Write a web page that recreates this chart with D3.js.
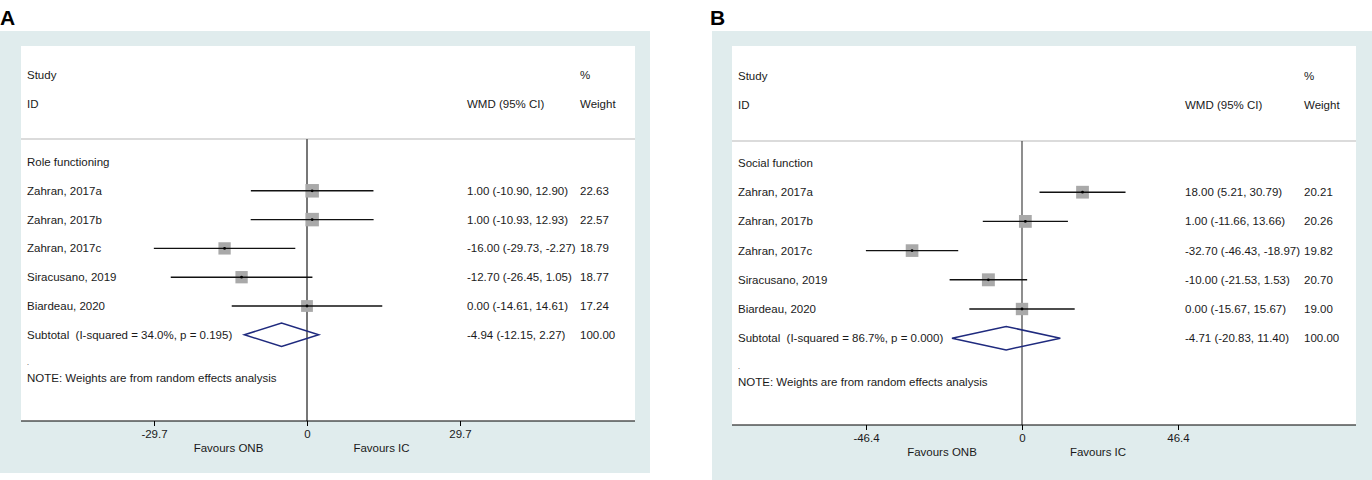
<!DOCTYPE html>
<html>
<head>
<meta charset="utf-8">
<script src="https://cdn.jsdelivr.net/npm/d3@7"></script>
<style>
  body { margin: 0; background: #fff; }
  svg { display: block; font-family: 'Liberation Sans', Arial, sans-serif; }
  text { white-space: pre; }
</style>
</head>
<body>
<div id="chart"></div>
<script>
// study rows (same for both panels)
const studies = ['Zahran, 2017a', 'Zahran, 2017b', 'Zahran, 2017c', 'Siracusano, 2019', 'Biardeau, 2020']

// A: role functioning
const roleEst = [1.00, 1.00, -16.00, -12.70, 0.00]
const roleLow = [-10.90, -10.93, -29.73, -26.45, -14.61]
const roleHigh = [12.90, 12.93, -2.27, 1.05, 14.61]
const roleWeight = [22.63, 22.57, 18.79, 18.77, 17.24]
const roleSubtotal = [-4.94, -12.15, 2.27]
const roleTicks = [-29.7, 0, 29.7]

// B: social function
const socialEst = [18.00, 1.00, -32.70, -10.00, 0.00]
const socialLow = [5.21, -11.66, -46.43, -21.53, -15.67]
const socialHigh = [30.79, 13.66, -18.97, 1.53, 15.67]
const socialWeight = [20.21, 20.26, 19.82, 20.70, 19.00]
const socialSubtotal = [-4.71, -20.83, 11.40]
const socialTicks = [-46.4, 0, 46.4]

// plain hyphen for negatives, like the stata output
const locale = d3.formatLocale({ decimal: '.', thousands: ',', grouping: [3], currency: ['', ''], minus: '-' })
const fmt = locale.format('.2f')
const fmt1 = locale.format('.1f')
const ciText = (e, l, h) => fmt(e) + ' (' + fmt(l) + ', ' + fmt(h) + ')'

const FS = 11.5

var svg = d3.select('#chart').
  append('svg').
  attr('width', 1372).
  attr('height', 480)

// side of the weight square grows with sqrt of the weight
var sizeScale = d3.scaleSqrt().domain([0, 100]).range([0, 28.4])

const forestPanel = (o) => {
  var g = svg.append('g')

  g.append('text').
    attr('x', o.letterX).attr('y', 25).
    attr('font-size', 21).attr('font-weight', 'bold').
    text(o.letter)

  g.append('rect').
    attr('x', o.outer[0]).attr('y', o.outer[1]).
    attr('width', o.outer[2] - o.outer[0]).attr('height', o.outer[3] - o.outer[1]).
    attr('fill', '#e0eced')
  g.append('rect').
    attr('x', o.inner[0]).attr('y', o.inner[1]).
    attr('width', o.inner[2] - o.inner[0]).attr('height', o.inner[3] - o.inner[1]).
    attr('fill', '#fff')

  var x = d3.scaleLinear().domain([o.ticks[0], o.ticks[2]]).range(o.tickRange)
  var y = d3.scaleLinear().domain([0, 1]).range([o.rowTop, o.rowTop + o.step])

  var txt = (xx, yy, s) => g.append('text').
    attr('x', xx).attr('y', yy).attr('dy', '0.35em').
    attr('font-size', FS).attr('fill', '#1a1a1a').text(s)

  // header
  txt(o.inner[0] + 6, o.headY[0], 'Study')
  txt(o.inner[0] + 6, o.headY[1], 'ID')
  txt(o.colCI, o.headY[1], 'WMD (95% CI)')
  txt(o.colW, o.headY[0], '%')
  txt(o.colW, o.headY[1], 'Weight')

  g.append('line').
    attr('x1', o.inner[0]).attr('x2', o.inner[2]).
    attr('y1', o.sepY).attr('y2', o.sepY).
    attr('stroke', '#cfcfcf').attr('stroke-width', 1.5)

  // null line
  g.append('line').
    attr('x1', x(0)).attr('x2', x(0)).
    attr('y1', o.sepY).attr('y2', o.inner[3]).
    attr('stroke', o.zeroColor).attr('stroke-width', o.zeroWidth)

  txt(o.inner[0] + 6, y(0), o.group)

  var rows = studies.map((s, i) => ({
    name: s, est: o.est[i], lo: o.low[i], hi: o.high[i], w: o.weight[i], row: i + 1
  }))

  var row = g.selectAll('g.study').
    data(rows).
    enter().
    append('g').
    attr('class', 'study')

  row.append('rect').
    attr('x', d => x(d.est) - sizeScale(d.w) / 2).
    attr('y', d => y(d.row) - sizeScale(d.w) / 2).
    attr('width', d => sizeScale(d.w)).
    attr('height', d => sizeScale(d.w)).
    attr('fill', '#a9a9a9')
  row.append('line').
    attr('x1', d => x(d.lo)).attr('x2', d => x(d.hi)).
    attr('y1', d => y(d.row)).attr('y2', d => y(d.row)).
    attr('stroke', '#111').attr('stroke-width', 1.4)
  row.append('circle').
    attr('cx', d => x(d.est)).attr('cy', d => y(d.row)).
    attr('r', 1.4).attr('fill', '#000')

  rows.forEach(d => {
    txt(o.inner[0] + 6, y(d.row), d.name)
    txt(o.colCI, y(d.row), ciText(d.est, d.lo, d.hi))
    txt(o.colW, y(d.row), fmt(d.w))
  })

  // subtotal diamond
  var sy = y(6), sub = o.subtotal
  g.append('path').
    attr('d', 'M' + x(sub[1]) + ',' + sy + 'L' + x(sub[0]) + ',' + (sy - 11.7) +
      'L' + x(sub[2]) + ',' + sy + 'L' + x(sub[0]) + ',' + (sy + 11.7) + 'Z').
    attr('fill', 'none').attr('stroke', '#1f2a7e').attr('stroke-width', 1.5)
  txt(o.inner[0] + 6, sy, o.subLabel)
  txt(o.colCI, sy, ciText(sub[0], sub[1], sub[2]))
  txt(o.colW, sy, fmt(100))

  txt(o.inner[0] + 6, y(6.98), '.').attr('font-size', 7)
  txt(o.inner[0] + 6, y(7.5), 'NOTE: Weights are from random effects analysis')

  // x axis
  var axisG = g.append('g').
    attr('transform', 'translate(0,' + o.inner[3] + ')')
  axisG.append('line').
    attr('x1', o.inner[0]).attr('x2', o.inner[2]).
    attr('stroke', '#000').attr('stroke-width', 1.2)
  axisG.call(d3.axisBottom(x).tickValues(o.ticks).tickSize(5).tickFormat(d => d === 0 ? '0' : fmt1(d))).
    call(a => a.select('.domain').remove()).
    call(a => a.selectAll('text').attr('font-size', FS).attr('font-family', null).
      attr('fill', '#1a1a1a').attr('y', 17).attr('dy', 0))

  g.append('text').
    attr('x', x(o.ticks[0] / 2) - 2).attr('y', o.inner[3] + 31).
    attr('text-anchor', 'middle').attr('font-size', FS).attr('fill', '#1a1a1a').
    text('Favours ONB')
  g.append('text').
    attr('x', x(o.ticks[2] / 2) - 2).attr('y', o.inner[3] + 31).
    attr('text-anchor', 'middle').attr('font-size', FS).attr('fill', '#1a1a1a').
    text('Favours IC')
}

forestPanel({
  letter: 'A', letterX: 0,
  outer: [0, 31, 650, 473], inner: [21, 46, 635, 421],
  tickRange: [154, 460], ticks: roleTicks,
  rowTop: 162, step: 28.8, headY: [75, 104], sepY: 139,
  colCI: 467, colW: 580,
  zeroColor: '#777', zeroWidth: 2,
  group: 'Role functioning',
  est: roleEst, low: roleLow, high: roleHigh, weight: roleWeight, subtotal: roleSubtotal,
  subLabel: 'Subtotal  (I-squared = 34.0%, p = 0.195)'
})

forestPanel({
  letter: 'B', letterX: 710,
  outer: [712, 31, 1372, 480], inner: [732, 46, 1356, 425],
  tickRange: [866, 1178], ticks: socialTicks,
  rowTop: 163, step: 29.2, headY: [76, 105], sepY: 141,
  colCI: 1185, colW: 1304,
  zeroColor: '#444', zeroWidth: 1.2,
  group: 'Social function',
  est: socialEst, low: socialLow, high: socialHigh, weight: socialWeight, subtotal: socialSubtotal,
  subLabel: 'Subtotal  (I-squared = 86.7%, p = 0.000)'
})
</script>
</body>
</html>
